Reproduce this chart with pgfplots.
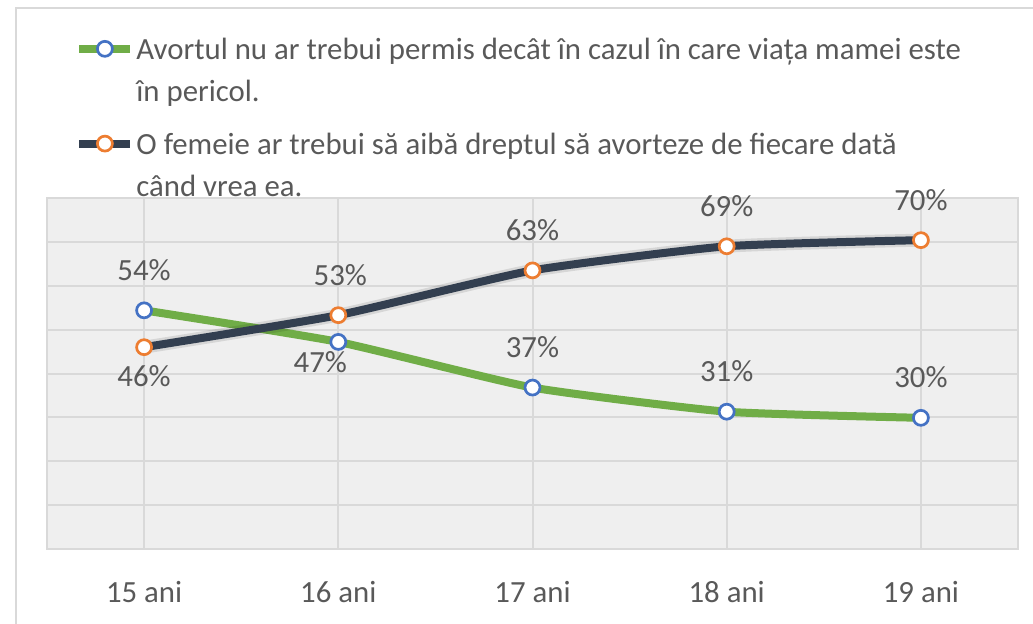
\documentclass[border=0pt]{standalone}
\usepackage{pgfplots}
\usepackage{pgfplotstable}
\pgfplotsset{compat=1.18}
\usepackage{fontspec}
\setmainfont{Carlito}
\definecolor{txt}{HTML}{595959}
\definecolor{gridc}{HTML}{D9D9D9}
\definecolor{bgc}{HTML}{EFEFEF}
\definecolor{grn}{HTML}{70AD47}
\definecolor{navy}{HTML}{333F50}
\definecolor{blu}{HTML}{4472C4}
\definecolor{orn}{HTML}{ED7D31}
\newcommand\lf{\fontsize{15.4}{21}\selectfont}
\pgfplotstableread{
x y lab dy dx
0 54.4 54 15 0
1 47.2 47 -15.5 -9
2 36.8 37 15 0
3 31.3 31 15 0
4 29.9 30 15 0
}\tgreen
\pgfplotstableread{
x y lab dy dx
0 46.0 46 -19.5 0
1 53.3 53 15 1
2 63.5 63 15 0
3 69.0 69 15 0
4 70.4 70 15 0
}\tnavy
\begin{document}
\begin{tikzpicture}[x=1pt,y=1pt]
\useasboundingbox (-23.5,-37) rectangle (493,274.5);
\draw[color=gridc, line width=1pt] (-15.5,-45) -- (-15.5,270.5) -- (500,270.5);
\begin{axis}[
  at={(0,0)}, anchor=south west,
  width=485.5pt, height=175.5pt, scale only axis,
  xmin=-0.5, xmax=4.5, ymin=0, ymax=80,
  xtick={0,1,2,3,4},
  xticklabels={15 ani,16 ani,17 ani,18 ani,19 ani},
  ytick={0,10,...,80}, yticklabels={},
  grid=major, major grid style={color=gridc, line width=1pt},
  axis line style={color=gridc, line width=1pt},
  tick style={draw=none},
  axis background/.style={fill=bgc},
  xticklabel style={anchor=base, yshift=-26.5pt, font=\lf, text=txt},
  legend style={at={(rel axis cs:0,1)}, anchor=north west, xshift=14pt, yshift=80pt,
    draw=none, fill=none, inner sep=0pt, row sep=14.2pt, column sep=1pt,
    nodes={inner sep=0pt}, font=\lf, text=txt,
    cells={anchor=base west, align=left}},
  legend image code/.code={
    \draw[mark repeat=2,mark phase=2,#1] plot coordinates {(0pt,26.5pt) (12.75pt,26.5pt) (25.5pt,26.5pt)};
  },
  visualization depends on={\thisrow{dy} \as \dy},
  visualization depends on={\thisrow{dx} \as \dx},
]
\addplot[color=grn, line width=4pt, smooth, tension=0.3, mark=*, mark size=3.75pt,
  mark options={fill=white, draw=blu, line width=1.35pt},
  nodes near coords={\pgfplotspointmeta\%}, point meta=explicit symbolic,
  every node near coord/.style={anchor=base, xshift=\dx pt, yshift=\dy pt, font=\lf, text=txt, inner sep=0pt}]
  table[x=x, y=y, meta=lab] {\tgreen};
\addlegendentry{Avortul nu ar trebui permis decât în cazul în care viața mamei este\\în pericol.}
\addplot[forget plot, color=black, opacity=0.10, line width=6.5pt, smooth, tension=0.3]
  table[x=x, y=y] {\tnavy};
\addplot[color=navy, line width=4pt, smooth, tension=0.3, mark=*, mark size=3.75pt,
  mark options={fill=white, draw=orn, line width=1.35pt},
  nodes near coords={\pgfplotspointmeta\%}, point meta=explicit symbolic,
  every node near coord/.style={anchor=base, xshift=\dx pt, yshift=\dy pt, font=\lf, text=txt, inner sep=0pt}]
  table[x=x, y=y, meta=lab] {\tnavy};
\addlegendentry{O femeie ar trebui să aibă dreptul să avorteze de fiecare dată\\când vrea ea.}
\end{axis}
\end{tikzpicture}
\end{document}
